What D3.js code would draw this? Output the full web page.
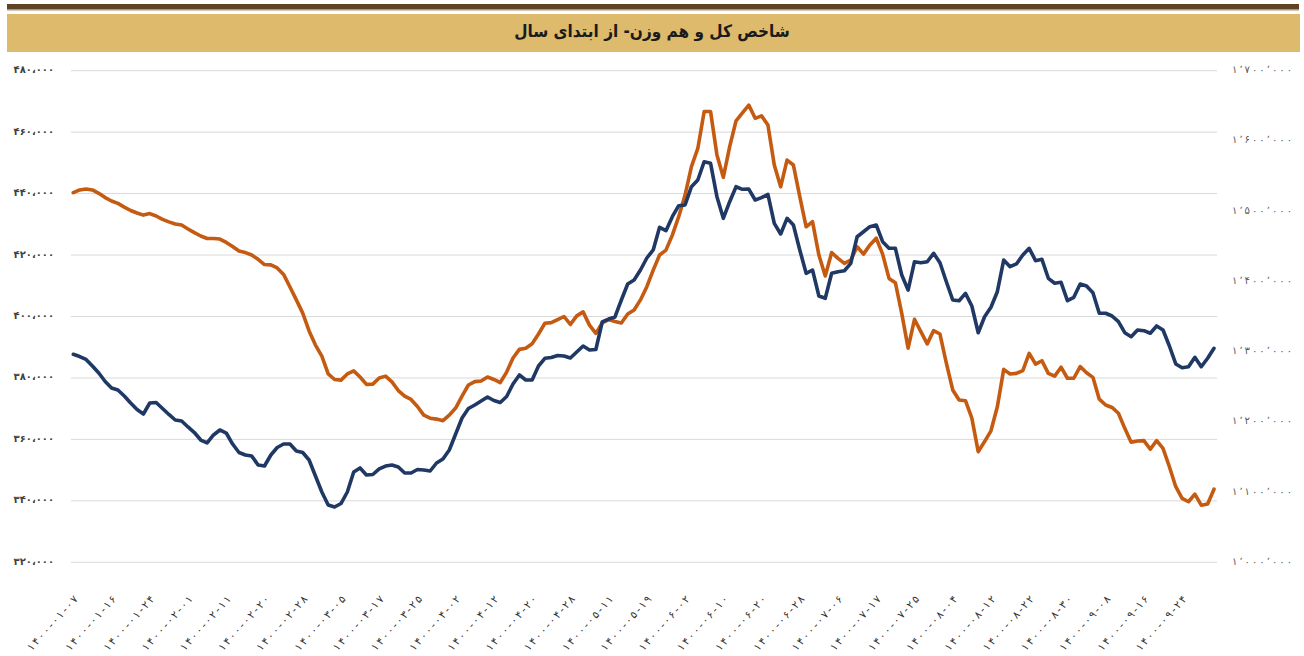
<!DOCTYPE html>
<html>
<head>
<meta charset="utf-8">
<script src="https://cdn.jsdelivr.net/npm/d3@7"></script>
<style>
  body { margin: 0; background: #fff; }
  svg { display: block; }
</style>
</head>
<body>
<svg id="chart"></svg>
<script>
const width = 1304;
const height = 656;
const title = "شاخص کل و هم وزن- از ابتدای سال";

// x axis labels, one every 6 trading days
const tickLabels = [
  "۱۴۰۰-۰۱-۰۷", "۱۴۰۰-۰۱-۱۶", "۱۴۰۰-۰۱-۲۴", "۱۴۰۰-۰۲-۰۱", "۱۴۰۰-۰۲-۱۱",
  "۱۴۰۰-۰۲-۲۰", "۱۴۰۰-۰۲-۲۸", "۱۴۰۰-۰۳-۰۵", "۱۴۰۰-۰۳-۱۷", "۱۴۰۰-۰۳-۲۵",
  "۱۴۰۰-۰۴-۰۲", "۱۴۰۰-۰۴-۱۲", "۱۴۰۰-۰۴-۲۰", "۱۴۰۰-۰۴-۲۸", "۱۴۰۰-۰۵-۱۱",
  "۱۴۰۰-۰۵-۱۹", "۱۴۰۰-۰۶-۰۲", "۱۴۰۰-۰۶-۱۰", "۱۴۰۰-۰۶-۲۰", "۱۴۰۰-۰۶-۲۸",
  "۱۴۰۰-۰۷-۰۶", "۱۴۰۰-۰۷-۱۷", "۱۴۰۰-۰۷-۲۵", "۱۴۰۰-۰۸-۰۴", "۱۴۰۰-۰۸-۱۲",
  "۱۴۰۰-۰۸-۲۲", "۱۴۰۰-۰۸-۳۰", "۱۴۰۰-۰۹-۰۸", "۱۴۰۰-۰۹-۱۶", "۱۴۰۰-۰۹-۲۴"
];
const tickStep = 6;

// equal weight index (left axis), thousands
const equalWeight = [
  440.3, 441.2, 441.5, 441.2, 440.1, 438.7, 437.6, 436.8, 435.6, 434.5,
  433.7, 433.0, 433.5, 432.7, 431.6, 430.8, 430.1, 429.8, 428.5, 427.3,
  426.2, 425.4, 425.4, 425.2, 424.1, 422.8, 421.3, 420.8, 420.0, 418.6,
  416.9, 416.8, 415.8, 413.7, 409.6, 405.4, 401.1, 395.3, 390.7, 387.1,
  381.3, 379.5, 379.3, 381.3, 382.3, 380.3, 377.9, 378.0, 380.0, 380.6,
  378.7, 375.9, 374.1, 373.0, 370.7, 367.9, 366.9, 366.6, 366.1, 367.9,
  370.2, 374.1, 377.7, 378.8, 379.0, 380.3, 379.5, 378.5, 381.9, 386.5,
  389.3, 389.7, 391.1, 394.3, 397.8, 398.0, 399.0, 400.0, 397.4, 400.2,
  401.5, 397.2, 394.5, 397.9, 399.0, 398.4, 397.9, 400.8, 402.1, 405.4,
  409.7, 415.1, 420.0, 421.6, 426.5, 432.5, 439.5, 448.8, 454.7, 466.7,
  466.7, 452.6, 445.3, 455.3, 463.7, 466.3, 468.8, 464.5, 465.3, 462.3,
  449.3, 442.2, 450.9, 449.3, 439.0, 429.2, 430.9, 420.0, 413.2, 420.8,
  418.9, 417.3, 418.4, 422.7, 420.3, 423.3, 425.5, 420.3, 412.4, 411.0,
  401.0, 389.7, 399.1, 395.1, 391.1, 395.4, 394.3, 384.8, 376.1, 372.8,
  372.6, 366.9, 356.0, 359.3, 362.8, 370.6, 382.8, 381.3, 381.5, 382.4,
  388.0, 384.5, 385.6, 381.5, 380.6, 383.5, 379.9, 379.9, 383.7, 381.7,
  380.2, 373.1, 371.2, 370.4, 368.5, 363.6, 359.1, 359.5, 359.6, 356.8,
  359.6, 357.1, 351.1, 344.6, 340.8, 339.7, 342.2, 338.6, 339.0, 343.8
];

// total index (right axis), thousands
const totalIndex = [
  1296.2, 1293.0, 1288.8, 1279.5, 1269.5, 1257.4, 1248.2, 1245.3, 1236.8, 1226.8,
  1217.6, 1211.2, 1226.8, 1227.5, 1219.0, 1210.5, 1202.6, 1201.2, 1192.7, 1184.8,
  1174.1, 1169.9, 1181.3, 1188.4, 1184.1, 1168.4, 1156.3, 1152.8, 1151.4, 1138.5,
  1137.1, 1152.8, 1163.5, 1168.4, 1168.4, 1158.5, 1156.3, 1145.7, 1122.9, 1100.1,
  1081.6, 1078.7, 1083.7, 1100.1, 1128.6, 1134.3, 1124.3, 1125.0, 1132.9, 1137.1,
  1138.5, 1135.7, 1127.2, 1127.2, 1132.1, 1131.4, 1130.0, 1141.4, 1147.1, 1159.9,
  1182.7, 1205.5, 1219.0, 1224.0, 1229.7, 1235.4, 1230.4, 1227.5, 1236.1, 1253.9,
  1266.7, 1259.6, 1259.6, 1279.5, 1290.5, 1291.6, 1294.5, 1293.7, 1290.9, 1299.4,
  1308.0, 1302.3, 1303.0, 1342.2, 1346.4, 1349.3, 1373.5, 1396.3, 1402.0, 1416.2,
  1433.3, 1444.7, 1477.0, 1472.2, 1492.1, 1507.8, 1508.8, 1534.8, 1544.4, 1570.4,
  1568.1, 1520.6, 1489.8, 1513.5, 1534.8, 1531.1, 1531.5, 1515.9, 1519.2, 1524.0,
  1482.7, 1467.5, 1489.8, 1480.3, 1444.7, 1411.5, 1416.2, 1379.2, 1375.9, 1411.5,
  1413.8, 1415.2, 1425.7, 1463.6, 1470.7, 1477.9, 1480.3, 1456.5, 1447.1, 1447.1,
  1409.1, 1387.7, 1428.0, 1426.6, 1428.0, 1440.0, 1426.6, 1399.5, 1373.5, 1372.5,
  1383.0, 1364.9, 1326.9, 1349.7, 1363.1, 1385.3, 1430.4, 1420.9, 1424.8, 1437.6,
  1447.1, 1429.5, 1431.4, 1404.4, 1397.3, 1398.7, 1372.5, 1377.3, 1396.3, 1393.4,
  1383.9, 1354.6, 1354.6, 1350.7, 1342.6, 1326.9, 1321.2, 1330.8, 1329.8, 1326.1,
  1336.5, 1330.8, 1308.0, 1282.4, 1277.1, 1278.5, 1291.9, 1278.5, 1290.5, 1304.7
];

const leftTicks = [320, 340, 360, 380, 400, 420, 440, 460, 480];
const rightTicks = [1000, 1100, 1200, 1300, 1400, 1500, 1600, 1700];

const plot = { left: 71, right: 1217, top: 70.7, bottom: 562.3 };

const faDigits = "۰۱۲۳۴۵۶۷۸۹";
const toFa = s => String(s).replace(/[0-9]/g, c => faDigits[+c]);

const svg = d3.select("#chart")
  .attr("width", width)
  .attr("height", height);

// header bars
svg.append("rect")
  .attr("x", 7).attr("y", 4).attr("width", 1292).attr("height", 5.5)
  .attr("fill", "#5d4223");
svg.append("rect")
  .attr("x", 7).attr("y", 9.5).attr("width", 1292).attr("height", 1)
  .attr("fill", "#a89274");
svg.append("rect")
  .attr("x", 7).attr("y", 14).attr("width", 1293).attr("height", 38)
  .attr("fill", "#ddba6c");
svg.append("text")
  .attr("x", 652).attr("y", 37)
  .attr("text-anchor", "middle")
  .attr("direction", "rtl")
  .style("font", "bold 17px 'DejaVu Sans Condensed', 'DejaVu Sans', sans-serif")
  .attr("fill", "#1b1b1b")
  .text(title);

// scales
const x = d3.scaleLinear()
  .domain([0, equalWeight.length - 1])
  .range([73.3, 1214]);
const yLeft = d3.scaleLinear()
  .domain([320, 480])
  .range([plot.bottom, plot.top]);
const yRight = d3.scaleLinear()
  .domain([1000, 1700])
  .range([plot.bottom, plot.top]);

// gridlines
svg.append("g")
  .selectAll("line")
  .data(leftTicks)
  .enter()
  .append("line")
    .attr("x1", plot.left)
    .attr("x2", plot.right)
    .attr("y1", d => yLeft(d))
    .attr("y2", d => yLeft(d))
    .attr("stroke", "#d9d9d9")
    .attr("stroke-width", 1);

// left axis
const leftAxis = d3.axisLeft(yLeft)
  .tickValues(leftTicks)
  .tickSize(0)
  .tickPadding(0)
  .tickFormat(d => toFa(d3.format(",")(d * 1000)).replace(/,/g, "،"));

svg.append("g")
    .attr("transform", "translate(54,0)")
  .call(leftAxis)
  .call(g => g.select(".domain").remove())
  .selectAll("text")
    .attr("dy", "0.2em")
    .style("font", "bold 10px 'DejaVu Sans', sans-serif")
    .attr("fill", "#404040");

// right axis
const rightAxis = d3.axisRight(yRight)
  .tickValues(rightTicks)
  .tickSize(0)
  .tickPadding(0)
  .tickFormat(d => toFa(d3.format(",")(d * 1000)).replace(/,/g, "٬"));

svg.append("g")
    .attr("transform", "translate(1232,0)")
  .call(rightAxis)
  .call(g => g.select(".domain").remove())
  .selectAll("text")
    .attr("dy", "0.2em")
    .attr("textLength", 60)
    .attr("lengthAdjust", "spacing")
    .style("font", "10px 'DejaVu Sans', sans-serif")
    .attr("fill", "#595959");

// x axis
const xAxis = d3.axisBottom(x)
  .tickValues(d3.range(0, equalWeight.length, tickStep))
  .tickSize(0)
  .tickFormat((d, i) => tickLabels[i]);

svg.append("g")
    .attr("transform", "translate(2,597)")
  .call(xAxis)
  .call(g => g.select(".domain").remove())
  .selectAll("text")
    .attr("direction", "ltr")
    .attr("text-anchor", "end")
    .attr("dx", 0)
    .attr("dy", "0.35em")
    .attr("y", 0)
    .attr("transform", "rotate(-48)")
    .attr("textLength", 70)
    .attr("lengthAdjust", "spacing")
    .style("font", "10.5px 'DejaVu Sans', sans-serif")
    .attr("fill", "#333");

// lines
const lineLeft = d3.line()
  .x((d, i) => x(i))
  .y(d => yLeft(d));
const lineRight = d3.line()
  .x((d, i) => x(i))
  .y(d => yRight(d));

svg.append("path")
  .datum(equalWeight)
  .attr("d", lineLeft)
  .attr("fill", "none")
  .attr("stroke", "#c55a11")
  .attr("stroke-width", 3.6)
  .attr("stroke-linejoin", "round")
  .attr("stroke-linecap", "round");

svg.append("path")
  .datum(totalIndex)
  .attr("d", lineRight)
  .attr("fill", "none")
  .attr("stroke", "#1f3864")
  .attr("stroke-width", 3.6)
  .attr("stroke-linejoin", "round")
  .attr("stroke-linecap", "round");
</script>
</body>
</html>
